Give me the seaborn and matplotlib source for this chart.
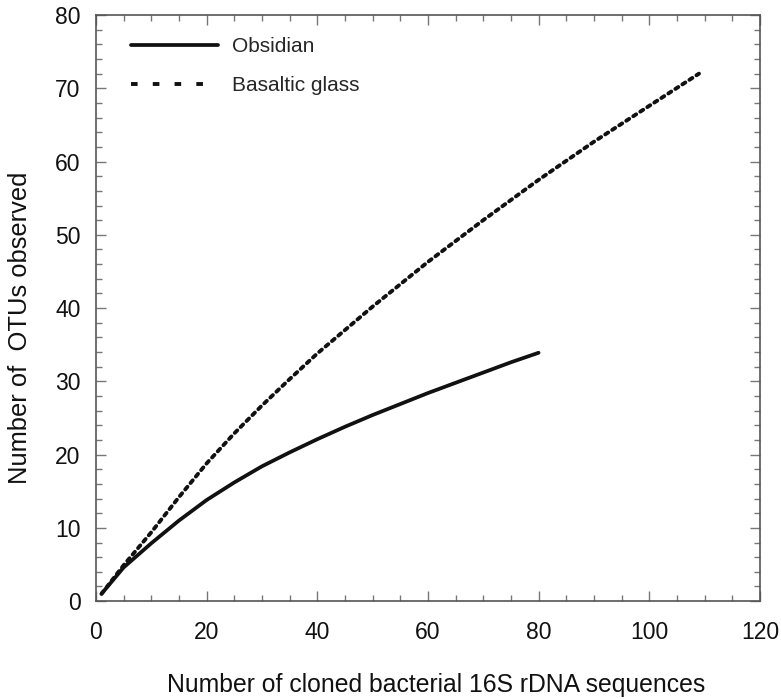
import matplotlib
matplotlib.use("Agg")
import matplotlib.pyplot as plt
from matplotlib.lines import Line2D
from matplotlib.ticker import MultipleLocator
import pandas as pd
import seaborn as sns

# Rarefaction curves: OTUs observed vs. number of cloned sequences
obsidian_n = [1, 5, 10, 15, 20, 25, 30, 35, 40, 45, 50, 55, 60, 65, 70, 75, 80]
obsidian_otus = [1.0, 4.6, 7.9, 11.0, 13.8, 16.2, 18.4, 20.3, 22.1, 23.8,
                 25.4, 26.9, 28.4, 29.8, 31.2, 32.6, 33.9]

basalt_n = [1, 5, 10, 15, 20, 25, 30, 35, 40, 50, 60, 70, 80, 90, 100, 109]
basalt_otus = [1.0, 4.9, 9.4, 14.2, 18.8, 22.9, 26.7, 30.3, 33.8, 40.2,
               46.3, 52.0, 57.5, 62.7, 67.6, 72.0]

series_names = ["Obsidian", "Basaltic glass"]
x_ticks = [0, 20, 40, 60, 80, 100, 120]
y_ticks = [0, 10, 20, 30, 40, 50, 60, 70, 80]

sns.set_theme(style="ticks")
plt.rcParams["font.family"] = ["Liberation Sans", "DejaVu Sans"]

df_obs = pd.DataFrame({"n": obsidian_n, "otus": obsidian_otus})
df_bas = pd.DataFrame({"n": basalt_n, "otus": basalt_otus})

fig = plt.figure(figsize=(7.81, 6.99), dpi=100)
ax = fig.add_axes([0.1229, 0.140, 0.850, 0.8385])

ink = "#111111"
sns.lineplot(data=df_obs, x="n", y="otus", ax=ax, color=ink,
             linewidth=2.7, solid_capstyle="round", solid_joinstyle="round")
sns.lineplot(data=df_bas, x="n", y="otus", ax=ax, color=ink,
             linewidth=2.8, dashes=False)
ax.lines[-1].set_linestyle((0, (0.9, 1.25)))
ax.lines[-1].set_dash_capstyle("round")

ax.set_xlim(0, 120)
ax.set_ylim(0, 80)
ax.set_xticks(x_ticks)
ax.set_yticks(y_ticks)
ax.xaxis.set_minor_locator(MultipleLocator(5))
ax.yaxis.set_minor_locator(MultipleLocator(2))

spine_col = "#555555"
for s in ax.spines.values():
    s.set_visible(True)
    s.set_color(spine_col)
    s.set_linewidth(1.2)

ax.tick_params(which="both", direction="in", top=True, right=True,
               color="#777777", width=1.0)
ax.tick_params(which="major", length=7.5, labelsize=16.5, labelcolor=ink)
ax.tick_params(axis="x", which="major", pad=14)
ax.tick_params(axis="y", which="major", pad=11)
ax.tick_params(which="minor", length=4.5)

ax.set_xlabel("Number of cloned bacterial 16S rDNA sequences", fontsize=17.8,
              color=ink)
ax.xaxis.set_label_coords(0.512, -0.122)
ax.set_ylabel("Number of  OTUs observed", fontsize=18.4, color=ink)
ax.yaxis.set_label_coords(-0.096, 0.466)

handles = [
    Line2D([], [], color=ink, linewidth=2.7),
    Line2D([], [], color=ink, linewidth=2.8, linestyle=(0, (1.7, 3.9))),
]
ax.legend(handles, series_names, loc="upper left", bbox_to_anchor=(0.052, 0.962),
          frameon=False, fontsize=15, handlelength=4.2, handletextpad=0.65,
          labelspacing=0.95, borderaxespad=0, borderpad=0)

fig.savefig("out.png", dpi=100)
